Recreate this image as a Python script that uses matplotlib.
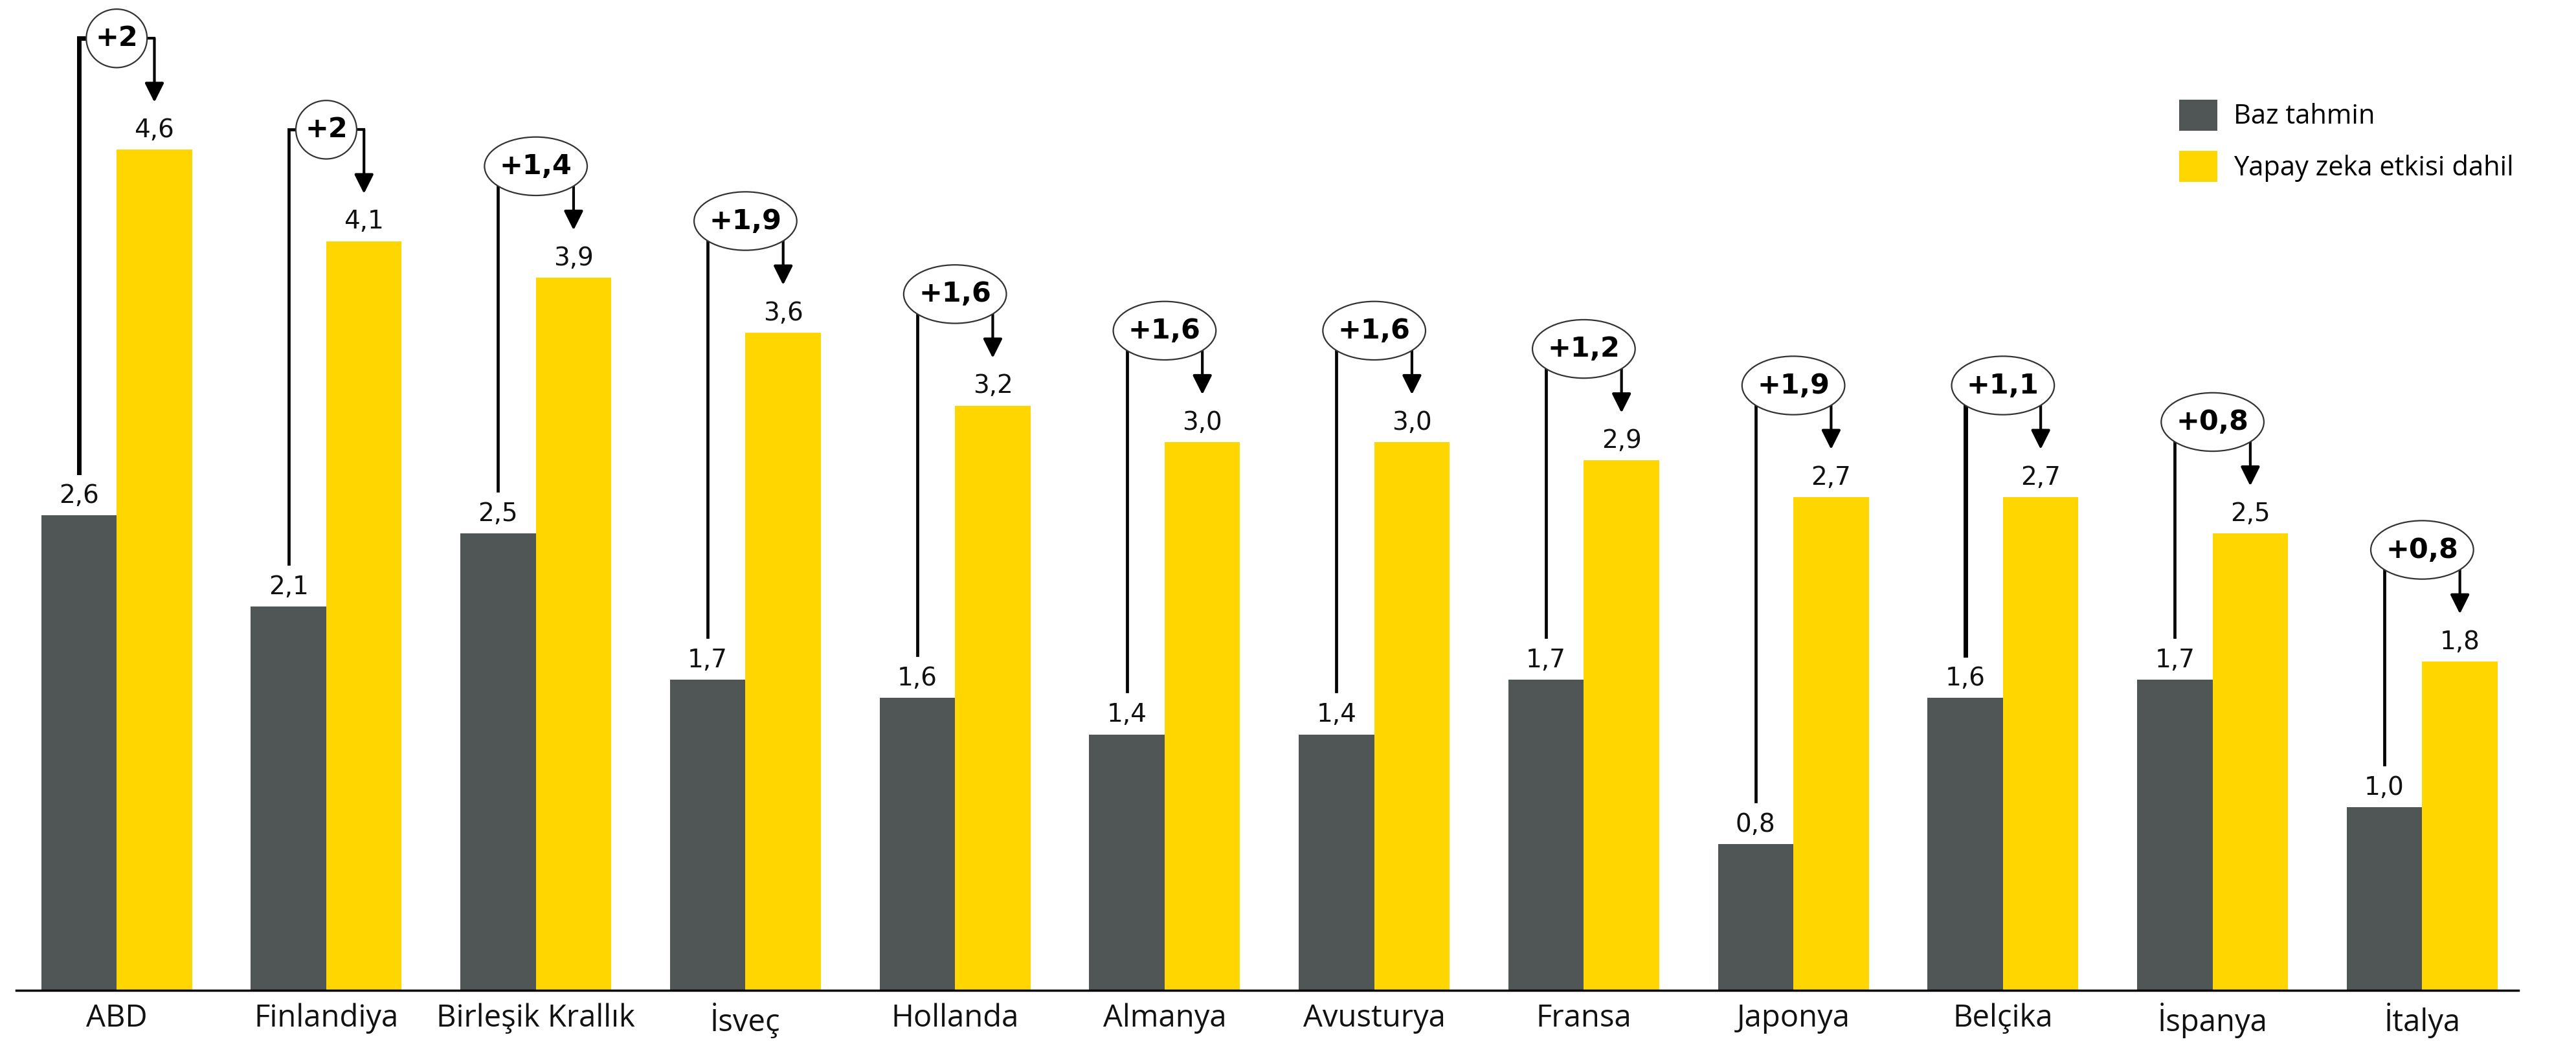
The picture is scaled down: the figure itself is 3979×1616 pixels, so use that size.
import matplotlib
matplotlib.use("Agg")
import matplotlib.pyplot as plt
from matplotlib.patches import Ellipse, Patch
import numpy as np

countries = ["ABD", "Finlandiya", "Birleşik Krallık", "İsveç", "Hollanda", "Almanya",
             "Avusturya", "Fransa", "Japonya", "Belçika", "İspanya", "İtalya"]
base = [2.6, 2.1, 2.5, 1.7, 1.6, 1.4, 1.4, 1.7, 0.8, 1.6, 1.7, 1.0]
ai = [4.6, 4.1, 3.9, 3.6, 3.2, 3.0, 3.0, 2.9, 2.7, 2.7, 2.5, 1.8]
diff_labels = ["+2", "+2", "+1,4", "+1,9", "+1,6", "+1,6", "+1,6", "+1,2", "+1,9", "+1,1", "+0,8", "+0,8"]
series_names = ["Baz tahmin", "Yapay zeka etkisi dahil"]

GRAY = "#505555"
YELLOW = "#FFD600"
W = 0.36

fig = plt.figure(figsize=(39.79, 16.16), dpi=100)
ax = fig.add_axes([0.0064, 0.0534, 0.9713, 0.9466])
x = np.arange(len(countries))

ax.bar(x - W / 2, base, width=W, color=GRAY, label=series_names[0], zorder=2)
ax.bar(x + W / 2, ai, width=W, color=YELLOW, label=series_names[1], zorder=2)

val_font = dict(family="DejaVu Sans", fontsize=28, color="#111111", ha="center", va="bottom")
for i in range(len(countries)):
    ax.annotate(f"{base[i]:.1f}".replace(".", ","), (x[i] - W / 2, base[i]),
                xytext=(0, 8), textcoords="offset points", **val_font)
    ax.annotate(f"{ai[i]:.1f}".replace(".", ","), (x[i] + W / 2, ai[i]),
                xytext=(0, 8), textcoords="offset points", **val_font)

    cy = ai[i] + 0.61
    gx = x[i] - W / 2
    yx = x[i] + W / 2
    lw_left = 5 if i in (0, 9) else 3.4
    ax.plot([gx, gx, x[i]], [base[i] + 0.235, cy, cy], color="black", lw=lw_left,
            solid_joinstyle="miter", zorder=3)
    ax.plot([x[i], yx], [cy, cy], color="black", lw=3, zorder=3)
    ax.annotate("", xy=(yx, ai[i] + 0.26), xytext=(yx, cy),
                arrowprops=dict(arrowstyle="-|>,head_length=0.6,head_width=0.3",
                                color="black", lw=3, mutation_scale=30,
                                shrinkA=0, shrinkB=0), zorder=3)
    short = len(diff_labels[i]) <= 2
    ew = 0.29 if short else 0.49
    eh = 0.32
    ax.add_patch(Ellipse((x[i], cy), ew, eh, facecolor="white", edgecolor="#333333",
                         lw=1.6, zorder=4))
    ax.text(x[i], cy, diff_labels[i], family="DejaVu Sans", fontweight="bold",
            fontsize=31, ha="center", va="center", color="black", zorder=5)

ax.set_xlim(-0.478, 11.46)
ax.set_ylim(0, 5.42)
ax.set_xticks(x)
ax.set_xticklabels(countries, family="Open Sans", fontsize=34, color="#111111")
ax.tick_params(axis="x", length=0, pad=14)
ax.set_yticks([])
for s in ["top", "right", "left"]:
    ax.spines[s].set_visible(False)
ax.spines["bottom"].set_linewidth(2.5)
ax.spines["bottom"].set_color("black")
ax.spines["bottom"].set_zorder(6)
ax.set_facecolor("none")

handles = [Patch(facecolor=GRAY), Patch(facecolor=YELLOW)]
fig.legend(handles, series_names, loc="upper left", bbox_to_anchor=(0.846, 0.905),
           frameon=False, prop=dict(family="Open Sans", size=30),
           handlelength=1.4, handleheight=1.4, handletextpad=0.6,
           labelspacing=0.75, borderpad=0, borderaxespad=0)

fig.savefig("out.png", dpi=100, facecolor="white")
